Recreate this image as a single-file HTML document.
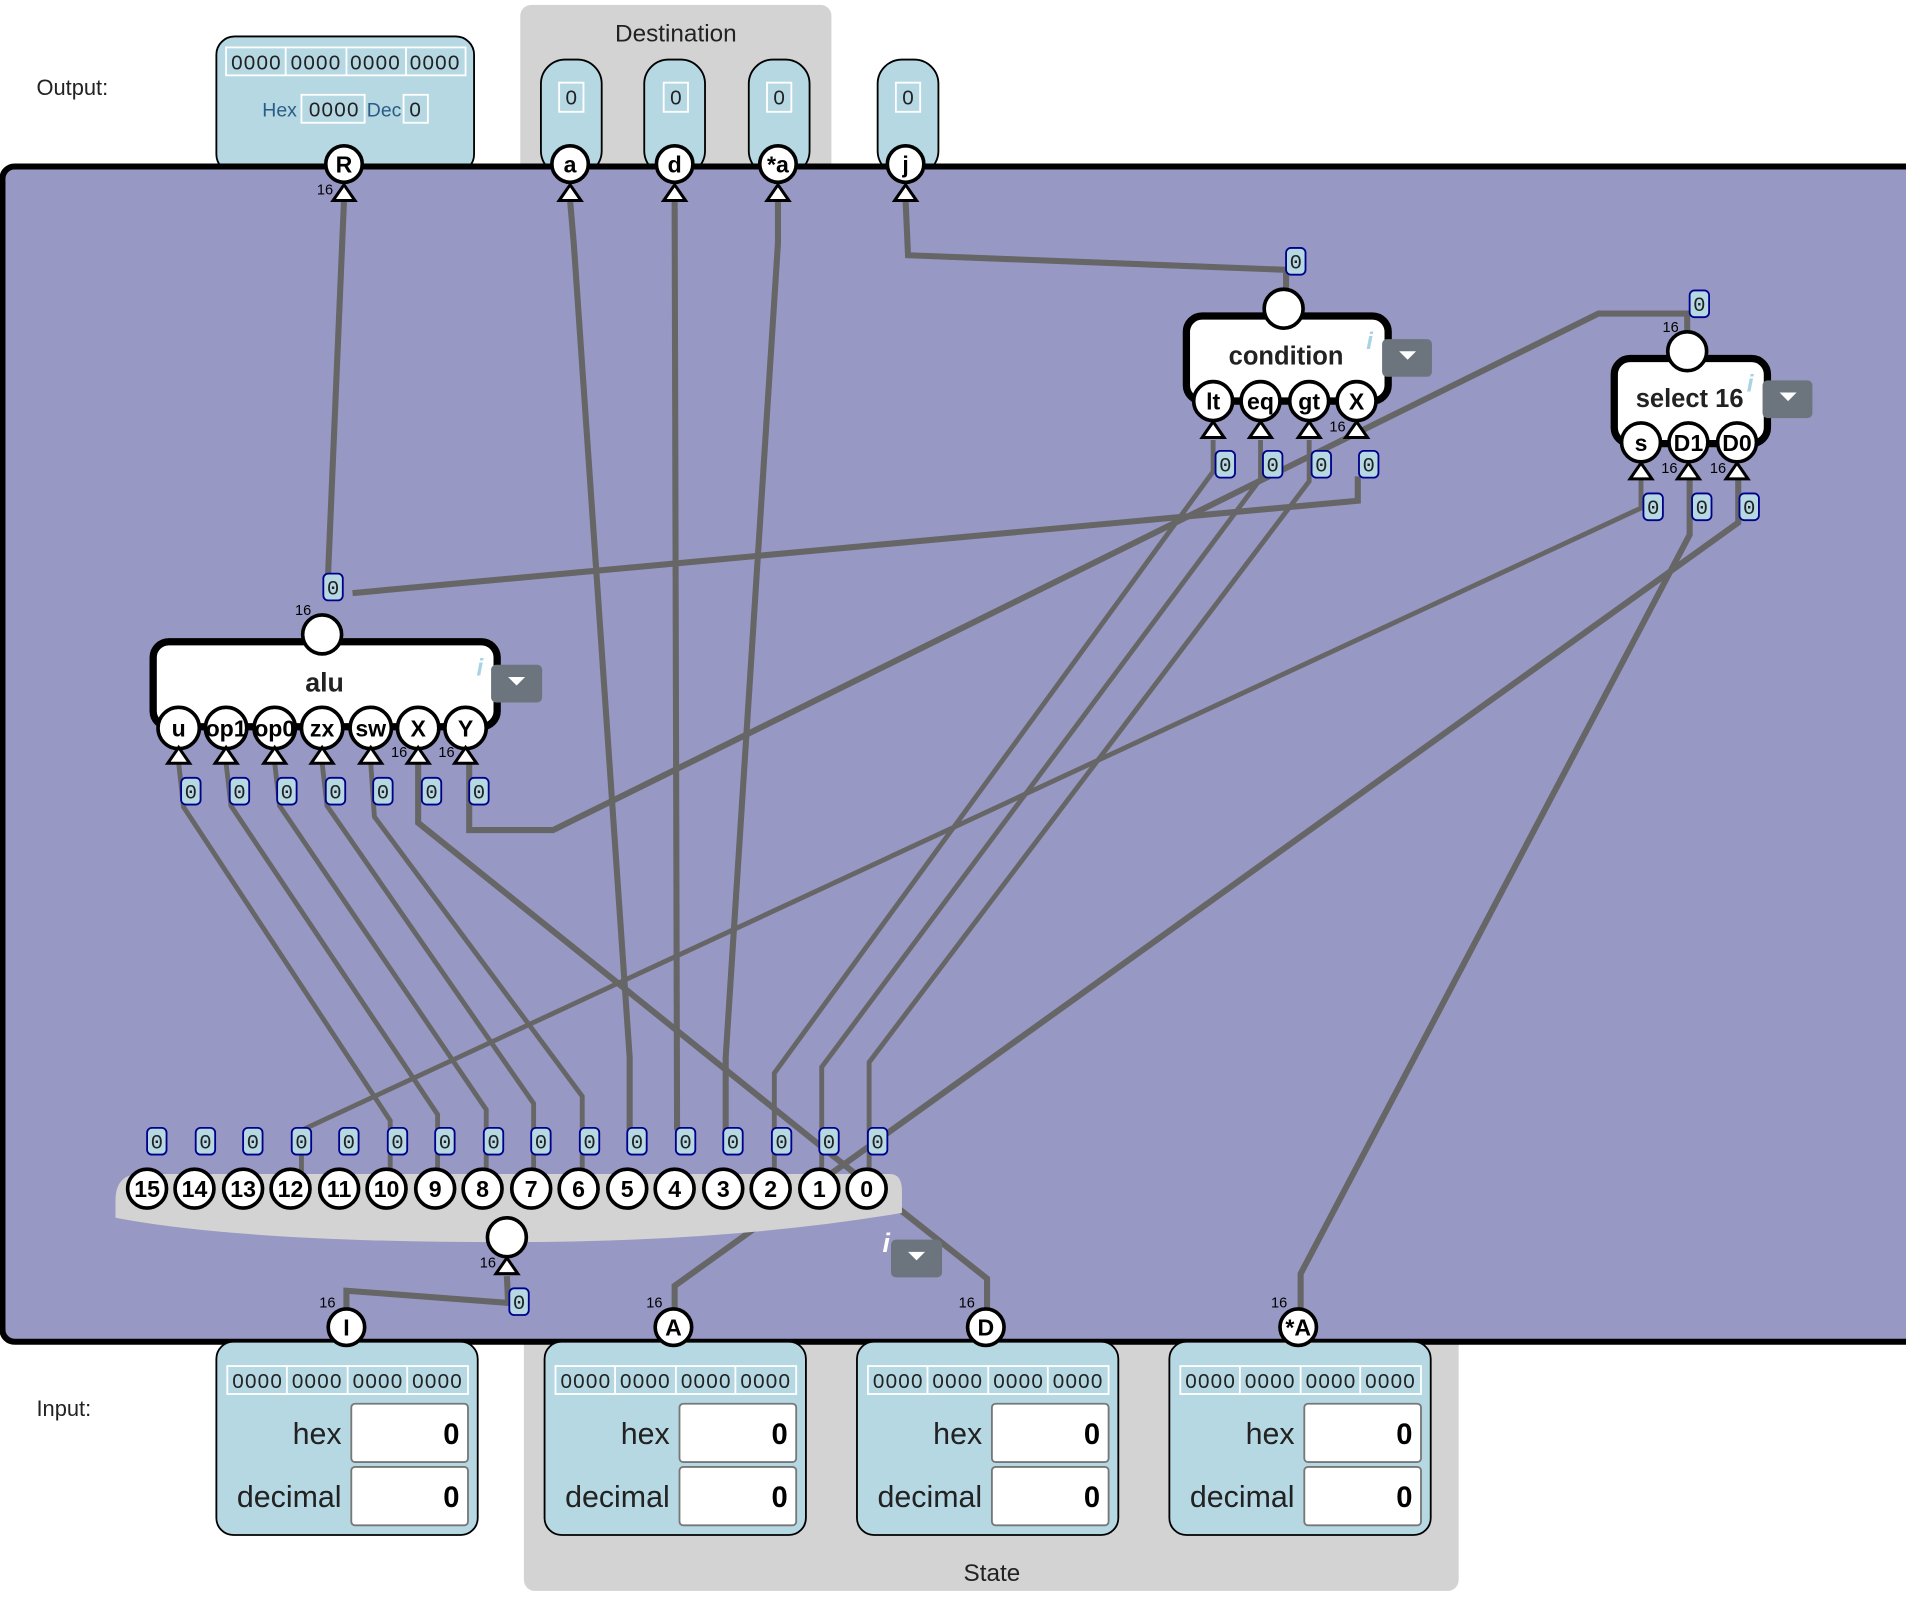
<!DOCTYPE html>
<html><head><meta charset="utf-8"><style>
html,body{margin:0;padding:0;background:#fff;}
svg{display:block;}
text{font-family:"Liberation Sans",sans-serif;}
.w{fill:none;stroke:#666;stroke-width:5;stroke-linejoin:miter;}
.wt{fill:none;stroke:#666;stroke-width:4;}
.pc{fill:#fff;stroke:#000;stroke-width:3;}
.pl{font-weight:bold;font-size:19px;text-anchor:middle;fill:#000;}
.tri{fill:#fff;stroke:#000;stroke-width:2.5;}
.lb{fill:#b5d8e3;stroke:#00008b;stroke-width:1.5;}
.lt{font-family:"Liberation Mono",monospace;font-size:17px;text-anchor:middle;fill:#222;}
.sm{font-size:12px;fill:#000;text-anchor:end;}
</style></head><body>
<svg width="1906" height="1614" viewBox="0 0 1568 1328" preserveAspectRatio="none" xmlns="http://www.w3.org/2000/svg">
<defs>
<g id="vl"><rect class="lb" x="-8" y="-11" width="16" height="22" rx="4"/><text class="lt" y="6">0</text></g>
</defs>
<!-- top groups -->
<rect x="428" y="4" width="256" height="140" rx="9" fill="#d3d3d3"/>
<text x="556" y="34" font-size="20" text-anchor="middle" fill="#222">Destination</text>
<text x="30" y="78" font-size="18" fill="#222">Output:</text>
<text x="30" y="1165" font-size="18" fill="#222">Input:</text>
<!-- state group -->
<rect x="431" y="1098" width="769" height="211" rx="9" fill="#d3d3d3"/>
<text x="816" y="1301" font-size="20" text-anchor="middle" fill="#222">State</text>

<!-- output box -->
<rect x="178" y="30" width="212" height="112" rx="15" fill="#b5d8e3" stroke="#000" stroke-width="1.5"/>
<g fill="none" stroke="#fff" stroke-width="1.5">
<rect x="186" y="39" width="197" height="23"/>
<line x1="235" y1="39" x2="235" y2="62"/><line x1="285" y1="39" x2="285" y2="62"/><line x1="334" y1="39" x2="334" y2="62"/>
<rect x="248" y="78" width="52" height="23"/><rect x="332" y="78" width="20" height="23"/>
</g>
<g font-size="17" fill="#222" text-anchor="middle" letter-spacing="1">
<text x="211" y="57">0000</text><text x="260" y="57">0000</text><text x="309" y="57">0000</text><text x="358" y="57">0000</text>
<text x="275" y="96">0000</text><text x="342" y="96">0</text></g>
<text x="230" y="96" font-size="16" fill="#2a5c86" text-anchor="middle">Hex</text>
<text x="316" y="96" font-size="16" fill="#2a5c86" text-anchor="middle">Dec</text>

<!-- dest pills -->
<g fill="#b5d8e3" stroke="#000" stroke-width="1.5">
<rect x="445" y="49" width="50" height="95" rx="20"/>
<rect x="530" y="49" width="50" height="95" rx="20"/>
<rect x="616" y="49" width="50" height="95" rx="20"/>
<rect x="722" y="49" width="50" height="95" rx="20"/>
</g>
<g fill="none" stroke="#fff" stroke-width="1.5">
<rect x="460" y="68" width="20" height="24"/><rect x="546" y="68" width="20" height="24"/><rect x="631" y="68" width="20" height="24"/><rect x="737" y="68" width="20" height="24"/>
</g>
<g font-size="17" fill="#222" text-anchor="middle">
<text x="470" y="86">0</text><text x="556" y="86">0</text><text x="641" y="86">0</text><text x="747" y="86">0</text></g>

<!-- main panel -->
<rect x="2" y="137" width="1600" height="967" rx="10" fill="#9898c4" stroke="#000" stroke-width="5"/>

<!-- input boxes -->
<g id="inb">
<rect x="178" y="1104" width="215" height="159" rx="14" fill="#b5d8e3" stroke="#000" stroke-width="1.5"/>
<g fill="none" stroke="#fff" stroke-width="1.5"><rect x="187" y="1124" width="198" height="23"/>
<line x1="236" y1="1124" x2="236" y2="1147"/><line x1="286" y1="1124" x2="286" y2="1147"/><line x1="335" y1="1124" x2="335" y2="1147"/></g>
<g font-size="17" fill="#222" text-anchor="middle" letter-spacing="1"><text x="212" y="1142">0000</text><text x="261" y="1142">0000</text><text x="311" y="1142">0000</text><text x="360" y="1142">0000</text></g>
<rect x="289" y="1155" width="96" height="48" rx="3" fill="#fff" stroke="#777" stroke-width="1.5"/>
<rect x="289" y="1207" width="96" height="48" rx="3" fill="#fff" stroke="#777" stroke-width="1.5"/>
<text x="281" y="1188" font-size="25" fill="#222" text-anchor="end">hex</text>
<text x="281" y="1240" font-size="25" fill="#222" text-anchor="end">decimal</text>
<text x="378" y="1188" font-size="24" font-family="Liberation Mono,monospace" font-weight="bold" text-anchor="end">0</text>
<text x="378" y="1240" font-size="24" font-family="Liberation Mono,monospace" font-weight="bold" text-anchor="end">0</text>
</g>
<use href="#inb" x="270"/><use href="#inb" x="527"/><use href="#inb" x="784"/>

<!-- wires -->
<g class="w">
<polyline points="283,165 270,470 270,485"/>
<polyline points="290,488 1117,412 1117,392"/>
<polyline points="469,165 472,200 518,870 518,930"/>
<polyline points="555,165 557,930"/>
<polyline points="640,165 640,200 597,870 597,930"/>
<polyline points="745,165 747,210 1058,222 1058,240"/>
<polyline points="386,628 386,683 455,683 1315,258 1388,258 1388,275"/>
<polyline points="344,628 344,677 740,995 812,1052 812,1080"/>
<polyline points="1430,395 1430,430 555,1058 555,1080"/>
<polyline points="1390,395 1390,440 1070,1048 1070,1080"/>
<polyline points="285,1080 285,1062 418,1072 417,1050"/>
</g>
<g class="wt">
<polyline points="998,362 998,388 637,883 637,965"/>
<polyline points="1037,362 1037,394 676,878 676,965"/>
<polyline points="1077,362 1077,396 715,874 715,965"/>
<polyline points="1350,395 1350,418 248,930 248,965"/>
<polyline points="147,628 151,664 321,922 321,965"/>
<polyline points="186,628 190,663 360,917 360,965"/>
<polyline points="226,628 230,663 400,913 400,965"/>
<polyline points="265,628 269,663 439,908 439,965"/>
<polyline points="305,628 308,672 479,902 479,965"/>
</g>

<!-- splitter -->
<path d="M95,988 Q95,966 115,966 L732,966 Q742,966 742,980 L742,998 Q600,1022 417,1022 Q200,1022 95,1002 Z" fill="#d3d3d3"/>
<g class="pc">
<circle cx="121" cy="978" r="16"/><circle cx="160" cy="978" r="16"/><circle cx="200" cy="978" r="16"/><circle cx="239" cy="978" r="16"/>
<circle cx="279" cy="978" r="16"/><circle cx="318" cy="978" r="16"/><circle cx="358" cy="978" r="16"/><circle cx="397" cy="978" r="16"/>
<circle cx="437" cy="978" r="16"/><circle cx="476" cy="978" r="16"/><circle cx="516" cy="978" r="16"/><circle cx="555" cy="978" r="16"/>
<circle cx="595" cy="978" r="16"/><circle cx="634" cy="978" r="16"/><circle cx="674" cy="978" r="16"/><circle cx="713" cy="978" r="16"/>
<circle cx="417" cy="1018" r="16"/>
</g>
<g class="pl" font-size="18">
<text x="121" y="985">15</text><text x="160" y="985">14</text><text x="200" y="985">13</text><text x="239" y="985">12</text>
<text x="279" y="985">11</text><text x="318" y="985">10</text><text x="358" y="985">9</text><text x="397" y="985">8</text>
<text x="437" y="985">7</text><text x="476" y="985">6</text><text x="516" y="985">5</text><text x="555" y="985">4</text>
<text x="595" y="985">3</text><text x="634" y="985">2</text><text x="674" y="985">1</text><text x="713" y="985">0</text>
</g>
<path class="tri" d="M408,1048 L417,1035 L426,1048 Z"/>
<text class="sm" x="408" y="1043">16</text>
<text x="726" y="1030" font-size="22" font-style="italic" font-weight="bold" fill="#fff" font-family="Liberation Serif,serif">i</text>
<rect x="733" y="1020" width="42" height="31" rx="4" fill="#6c757d"/>
<path d="M747,1030 L761,1030 L754,1037 Z" fill="#fff"/>

<!-- value labels -->
<g>
<use href="#vl" x="129" y="939"/><use href="#vl" x="169" y="939"/><use href="#vl" x="208" y="939"/><use href="#vl" x="248" y="939"/>
<use href="#vl" x="287" y="939"/><use href="#vl" x="327" y="939"/><use href="#vl" x="366" y="939"/><use href="#vl" x="406" y="939"/>
<use href="#vl" x="445" y="939"/><use href="#vl" x="485" y="939"/><use href="#vl" x="524" y="939"/><use href="#vl" x="564" y="939"/>
<use href="#vl" x="603" y="939"/><use href="#vl" x="643" y="939"/><use href="#vl" x="682" y="939"/><use href="#vl" x="722" y="939"/>
<use href="#vl" x="427" y="1071"/>
<use href="#vl" x="274" y="483"/>
<use href="#vl" x="1066" y="215"/><use href="#vl" x="1398" y="250"/>
<use href="#vl" x="1008" y="382"/><use href="#vl" x="1047" y="382"/><use href="#vl" x="1087" y="382"/><use href="#vl" x="1126" y="382"/>
<use href="#vl" x="1360" y="417"/><use href="#vl" x="1400" y="417"/><use href="#vl" x="1439" y="417"/>
<use href="#vl" x="157" y="651"/><use href="#vl" x="197" y="651"/><use href="#vl" x="236" y="651"/><use href="#vl" x="276" y="651"/>
<use href="#vl" x="315" y="651"/><use href="#vl" x="355" y="651"/><use href="#vl" x="394" y="651"/>
</g>

<!-- alu -->
<rect x="126" y="528" width="283" height="70" rx="13" fill="#fff" stroke="#000" stroke-width="6"/>
<text x="267" y="569" font-size="22" font-weight="bold" text-anchor="middle" fill="#222">alu</text>
<text x="392" y="556" font-size="20" font-style="italic" font-weight="bold" fill="#a9d3e3" font-family="Liberation Serif,serif">i</text>
<rect x="404" y="547" width="42" height="31" rx="4" fill="#6c757d"/>
<path d="M418,557 L432,557 L425,564 Z" fill="#fff"/>
<circle class="pc" cx="265" cy="522" r="16"/>
<text class="sm" x="256" y="506">16</text>
<g class="pc"><circle cx="147" cy="599" r="17"/><circle cx="186" cy="599" r="17"/><circle cx="226" cy="599" r="17"/><circle cx="265" cy="599" r="17"/><circle cx="305" cy="599" r="17"/><circle cx="344" cy="599" r="17"/><circle cx="383" cy="599" r="17"/></g>
<g class="pl"><text x="147" y="606">u</text><text x="186" y="606">op1</text><text x="226" y="606">op0</text><text x="265" y="606">zx</text><text x="305" y="606">sw</text><text x="344" y="606">X</text><text x="383" y="606">Y</text></g>
<g class="tri"><path d="M138,628 L147,615 L156,628Z"/><path d="M177,628 L186,615 L195,628Z"/><path d="M217,628 L226,615 L235,628Z"/><path d="M256,628 L265,615 L274,628Z"/><path d="M296,628 L305,615 L314,628Z"/><path d="M335,628 L344,615 L353,628Z"/><path d="M374,628 L383,615 L392,628Z"/></g>
<text class="sm" x="335" y="623">16</text><text class="sm" x="374" y="623">16</text>

<!-- condition -->
<rect x="976" y="260" width="166" height="70" rx="13" fill="#fff" stroke="#000" stroke-width="6"/>
<text x="1058" y="300" font-size="21" font-weight="bold" text-anchor="middle" fill="#222">condition</text>
<text x="1124" y="287" font-size="20" font-style="italic" font-weight="bold" fill="#a9d3e3" font-family="Liberation Serif,serif">i</text>
<rect x="1137" y="279" width="41" height="31" rx="4" fill="#6c757d"/>
<path d="M1151,289 L1165,289 L1158,296 Z" fill="#fff"/>
<circle class="pc" cx="1056" cy="254" r="16"/>
<g class="pc"><circle cx="998" cy="330" r="16"/><circle cx="1037" cy="330" r="16"/><circle cx="1077" cy="330" r="16"/><circle cx="1116" cy="330" r="16"/></g>
<g class="pl"><text x="998" y="337">lt</text><text x="1037" y="337">eq</text><text x="1077" y="337">gt</text><text x="1116" y="337">X</text></g>
<g class="tri"><path d="M989,360 L998,347 L1007,360Z"/><path d="M1028,360 L1037,347 L1046,360Z"/><path d="M1068,360 L1077,347 L1086,360Z"/><path d="M1107,360 L1116,347 L1125,360Z"/></g>
<text class="sm" x="1107" y="355">16</text>

<!-- select 16 -->
<rect x="1328" y="295" width="126" height="70" rx="13" fill="#fff" stroke="#000" stroke-width="6"/>
<text x="1390" y="335" font-size="21" font-weight="bold" text-anchor="middle" fill="#222">select 16</text>
<text x="1437" y="322" font-size="20" font-style="italic" font-weight="bold" fill="#a9d3e3" font-family="Liberation Serif,serif">i</text>
<rect x="1450" y="313" width="41" height="31" rx="4" fill="#6c757d"/>
<path d="M1464,323 L1478,323 L1471,330 Z" fill="#fff"/>
<circle class="pc" cx="1388" cy="289" r="16"/>
<text class="sm" x="1381" y="273">16</text>
<g class="pc"><circle cx="1350" cy="364" r="16"/><circle cx="1389" cy="364" r="16"/><circle cx="1429" cy="364" r="16"/></g>
<g class="pl"><text x="1350" y="371">s</text><text x="1389" y="371">D1</text><text x="1429" y="371">D0</text></g>
<g class="tri"><path d="M1341,394 L1350,381 L1359,394Z"/><path d="M1380,394 L1389,381 L1398,394Z"/><path d="M1420,394 L1429,381 L1438,394Z"/></g>
<text class="sm" x="1380" y="389">16</text><text class="sm" x="1420" y="389">16</text>

<!-- top pins -->
<g class="pc"><circle cx="283" cy="135" r="15"/><circle cx="469" cy="135" r="15"/><circle cx="555" cy="135" r="15"/><circle cx="640" cy="135" r="15"/><circle cx="745" cy="135" r="15"/></g>
<g class="pl"><text x="283" y="142">R</text><text x="469" y="142">a</text><text x="555" y="142">d</text><text x="640" y="142">*a</text><text x="745" y="142">j</text></g>
<g class="tri"><path d="M274,165 L283,152 L292,165Z"/><path d="M460,165 L469,152 L478,165Z"/><path d="M546,165 L555,152 L564,165Z"/><path d="M631,165 L640,152 L649,165Z"/><path d="M736,165 L745,152 L754,165Z"/></g>
<text class="sm" x="274" y="160">16</text>

<!-- bottom pins -->
<g class="pc"><circle cx="285" cy="1092" r="15"/><circle cx="554" cy="1092" r="15"/><circle cx="811" cy="1092" r="15"/><circle cx="1068" cy="1092" r="15"/></g>
<g class="pl"><text x="285" y="1099">I</text><text x="554" y="1099">A</text><text x="811" y="1099">D</text><text x="1068" y="1099">*A</text></g>
<text class="sm" x="276" y="1076">16</text><text class="sm" x="545" y="1076">16</text><text class="sm" x="802" y="1076">16</text><text class="sm" x="1059" y="1076">16</text>
</svg>
</body></html>
